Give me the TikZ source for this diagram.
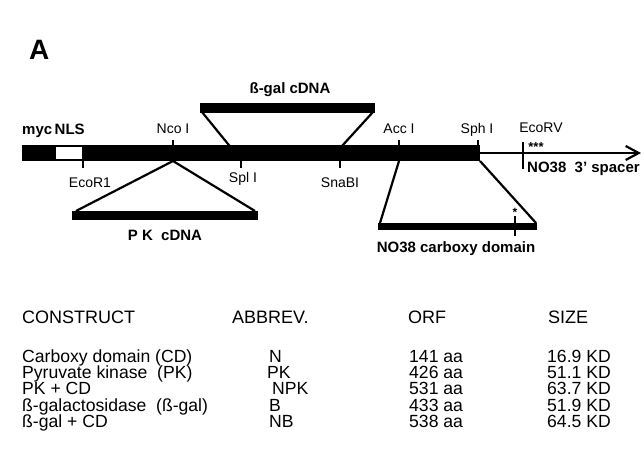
\documentclass[tikz,border=0pt]{standalone}
\usepackage{fontspec}
\setmainfont{Liberation Sans}
\usetikzlibrary{arrows.meta}
\begin{document}
\begin{tikzpicture}[x=1pt,y=-1pt,
  lbl/.style={font=\fontsize{14}{14}\selectfont, inner sep=0pt, anchor=base},
  blbl/.style={font=\bfseries\fontsize{15}{15}\selectfont, inner sep=0pt, anchor=base},
  thd/.style={font=\fontsize{18}{18}\selectfont, inner sep=0pt, anchor=base west},
  tcell/.style={font=\fontsize{17.6}{17.6}\selectfont, inner sep=0pt, anchor=base west},
  site/.style={line width=2.2pt},
  insline/.style={line width=2.2pt},
  cdna/.style={fill=black},
]
\useasboundingbox (0,0) rectangle (644,468);

% panel letter
\node[font=\bfseries\fontsize{28}{28}\selectfont, inner sep=0pt, anchor=base west] (A) at (29,60) {A};

% main construct bar
\fill (22,145) rectangle (55,161);
\draw[line width=1.8pt] (55,145.9) rectangle (83,160.1);
\fill (83,145) rectangle (480,161);
\coordinate (spend) at (480,153);
\coordinate (arrowtip) at (641,153);
\draw[line width=2.2pt, -{Straight Barb[length=13pt,width=14pt,line width=2.2pt]}] (spend) -- (arrowtip);

% sites
\coordinate (ncoT) at (173,140); \coordinate (ncoB) at (173,161);
\coordinate (ecoT) at (83,160); \coordinate (ecoB) at (83,168);
\coordinate (splT) at (241,160); \coordinate (splB) at (241,168);
\coordinate (snaT) at (340,160); \coordinate (snaB) at (340,168);
\coordinate (accT) at (399,140); \coordinate (accB) at (399,161);
\coordinate (sphT) at (478,140); \coordinate (sphB) at (480,161);
\coordinate (ecvT) at (523,142); \coordinate (ecvB) at (523,169);
\draw[site] (ncoT) -- (173,146);
\draw[site] (ecoT) -- (ecoB);
\draw[site] (splT) -- (splB);
\draw[site] (snaT) -- (snaB);
\draw[site] (accT) -- (399,146);
\draw[site] (sphT) -- (478,146);
\draw[site] (ecvT) -- (ecvB);

% bar labels
\node[blbl, anchor=base west] (myc) at (22,134) {myc\,NLS};
\node[lbl] (nco) at (173,133) {Nco I};
\node[lbl] (eco) at (90,187) {EcoR1};
\node[lbl] (spl) at (243,182) {Spl I};
\node[lbl] (sna) at (340,187) {SnaBI};
\node[lbl] (acc) at (399,133) {Acc I};
\node[lbl] (sph) at (477,133) {Sph I};
\node[lbl] (ecv) at (541,132) {EcoRV};
\node[blbl, anchor=base, font=\bfseries\fontsize{13}{13}\selectfont] (stars) at (536,151) {***};
\node[blbl, anchor=base west] (spacer) at (527,172) {NO38\ \ 3' spacer};

% beta-gal cDNA insert
\fill[cdna] (200,103.5) rectangle (375,112.5);
\coordinate (bgL) at (202,112); \coordinate (bgR) at (373,112);
\draw[insline] (bgL) -- (splT);
\draw[insline] (bgR) -- (342,146);
\node[blbl] (bgal) at (290,93) {ß-gal cDNA};

% PK cDNA insert
\fill[cdna] (72,211) rectangle (258,220);
\coordinate (pkL) at (76,211); \coordinate (pkR) at (255,211);
\draw[insline] (ncoB) -- (pkL);
\draw[insline] (ncoB) -- (pkR);
\node[blbl] (pk) at (165,240) {P\ K\ \ cDNA};

% NO38 carboxy domain insert
\fill[cdna] (378,222.5) rectangle (537,230);
\coordinate (cdL) at (380,223); \coordinate (cdR) at (536,223);
\draw[insline] (accB) -- (cdL);
\draw[insline] (sphB) -- (cdR);
\draw[site] (515,216) -- (515,236);
\node[blbl, font=\bfseries\fontsize{12}{12}\selectfont] (star) at (515,216) {*};
\node[blbl] (cd) at (456,252) {NO38 carboxy domain};

% table
\node[thd] (h1) at (22,323) {CONSTRUCT};
\node[thd] (h2) at (232,323) {ABBREV.};
\node[thd] (h3) at (408,323) {ORF};
\node[thd] (h4) at (548,323) {SIZE};

\node[tcell] (r1c1) at (22,362) {Carboxy domain (CD)};
\node[tcell] (r2c1) at (22,378) {Pyruvate kinase\ \ (PK)};
\node[tcell] (r3c1) at (22,394) {PK\ +\ CD};
\node[tcell] (r4c1) at (22,411) {ß-galactosidase\ \ (ß-gal)};
\node[tcell] (r5c1) at (22,427) {ß-gal\ +\ CD};

\node[tcell] (r1c2) at (269,362) {N};
\node[tcell] (r2c2) at (267,378) {PK};
\node[tcell] (r3c2) at (272,394) {NPK};
\node[tcell] (r4c2) at (269,411) {B};
\node[tcell] (r5c2) at (269,427) {NB};

\node[tcell] (r1c3) at (409,362) {141 aa};
\node[tcell] (r2c3) at (409,378) {426 aa};
\node[tcell] (r3c3) at (409,394) {531 aa};
\node[tcell] (r4c3) at (409,411) {433 aa};
\node[tcell] (r5c3) at (409,427) {538 aa};

\node[tcell] (r1c4) at (547,362) {16.9 KD};
\node[tcell] (r2c4) at (547,378) {51.1 KD};
\node[tcell] (r3c4) at (547,394) {63.7 KD};
\node[tcell] (r4c4) at (547,411) {51.9 KD};
\node[tcell] (r5c4) at (547,427) {64.5 KD};
\end{tikzpicture}
\end{document}
